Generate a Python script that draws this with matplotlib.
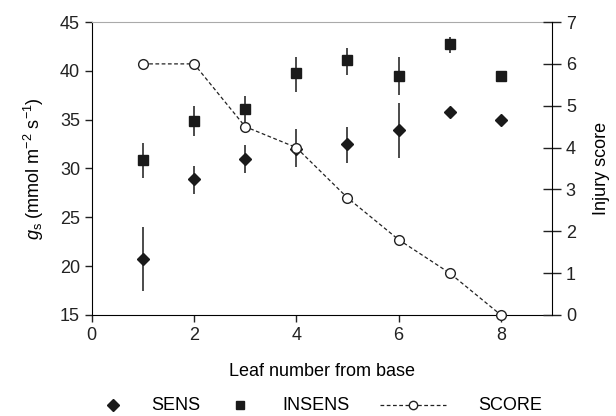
import numpy as np
import matplotlib.pyplot as plt
from matplotlib.lines import Line2D

plt.rcParams['font.family'] = ['Liberation Sans', 'DejaVu Sans']
plt.rcParams['font.size'] = 13
plt.rcParams['mathtext.fontset'] = 'custom'
plt.rcParams['mathtext.rm'] = 'Liberation Sans'
plt.rcParams['mathtext.it'] = 'Liberation Sans:italic'

leaf = [1, 2, 3, 4, 5, 6, 7, 8]
sens = [20.7, 28.9, 31.0, 32.0, 32.5, 33.9, 35.8, 35.0]
sens_lo = [17.5, 27.4, 29.5, 30.2, 30.6, 31.1, 35.8, 35.0]
sens_hi = [24.0, 30.3, 32.4, 34.0, 34.3, 36.7, 35.8, 35.0]
insens = [30.9, 34.9, 36.1, 39.8, 41.1, 39.5, 42.8, 39.5]
insens_lo = [29.0, 33.3, 34.7, 37.8, 39.6, 37.5, 41.8, 39.5]
insens_hi = [32.6, 36.4, 37.4, 41.4, 42.3, 41.4, 43.5, 39.5]
score = [6.0, 6.0, 4.5, 4.0, 2.8, 1.8, 1.0, 0.0]

W, H = 616, 416
fig = plt.figure(figsize=(W / 100, H / 100), dpi=100)
ax1 = fig.add_axes([0.149, 0.243, 0.747, 0.704])

sens = np.array(sens)
insens = np.array(insens)
ax1.errorbar(leaf, sens, yerr=[sens - sens_lo, np.array(sens_hi) - sens],
             fmt='D', color='#1a1a1a', ms=6.5, elinewidth=1.1, capsize=0)
ax1.errorbar(leaf, insens, yerr=[insens - insens_lo, np.array(insens_hi) - insens],
             fmt='s', color='#1a1a1a', ms=7, elinewidth=1.1, capsize=0)

ax1.set_xlim(0, 9)
ax1.set_ylim(15, 45)
ax1.set_xticks([0, 2, 4, 6, 8])
ax1.set_yticks([15, 20, 25, 30, 35, 40, 45])
ax1.set_xlabel('Leaf number from base', labelpad=14)
ax1.set_ylabel(r'$g_\mathrm{s}$ (mmol m$^{-2}$ s$^{-1}$)', labelpad=10)
ax1.spines['top'].set_color('#aaaaaa')
ax1.spines['right'].set_visible(False)
ax1.tick_params(direction='out', length=5, width=1, colors='#222222')

ax2 = ax1.twinx()
ax2.plot(leaf, score, '--o', color='#222222', lw=0.9, dashes=(3, 2),
         ms=7, mfc='white', mec='#222222', mew=1.0, clip_on=False, zorder=5)
ax2.set_ylim(0, 7)
ax2.set_yticks(range(8))
ax2.set_ylabel('Injury score', labelpad=12)
for s in ['top', 'left', 'bottom']:
    ax2.spines[s].set_visible(False)
ax2.tick_params(direction='inout', length=13, width=1, colors='#222222')

# legend row at the bottom, laid out by hand like the original
ly = 1 - 405 / H
fig.add_artist(Line2D([113 / W], [ly], marker='D', ms=6, color='#1a1a1a',
                      transform=fig.transFigure))
fig.text(176 / W, ly, 'SENS', ha='center', va='center')
fig.add_artist(Line2D([240 / W], [ly], marker='s', ms=6, color='#1a1a1a',
                      transform=fig.transFigure))
fig.text(316 / W, ly, 'INSENS', ha='center', va='center')
fig.add_artist(Line2D([380 / W, 446 / W], [ly, ly], ls='--', dashes=(3, 2), lw=0.9,
                      color='#222222', transform=fig.transFigure))
fig.add_artist(Line2D([413 / W], [ly], marker='o', ms=6, mfc='white', mec='#222222',
                      transform=fig.transFigure))
fig.text(510 / W, ly, 'SCORE', ha='center', va='center')

fig.savefig('out.png', dpi=100)
